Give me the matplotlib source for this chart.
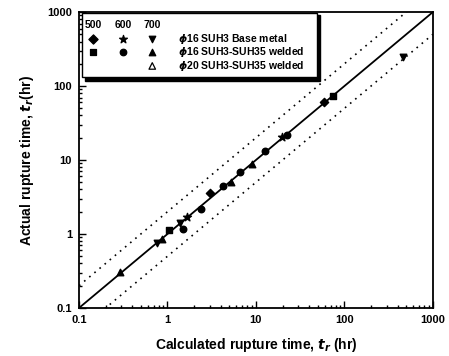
import numpy as np
import matplotlib.pyplot as plt
from matplotlib.patches import Rectangle
from matplotlib.ticker import FixedLocator, LogLocator, NullFormatter

plt.rcParams["font.family"] = ["Liberation Sans", "DejaVu Sans"]
plt.rcParams["font.weight"] = "bold"

# calculated (x) vs actual (y) rupture times, hr
base500_x = [3.02, 58.6]
base500_y = [3.58, 60.8]
base600_x = [1.66, 19.7]
base600_y = [1.70, 20.5]
base700_x = [0.76, 1.38, 460]
base700_y = [0.755, 1.41, 245]
weld500_x = [1.04, 74]
weld500_y = [1.13, 73]
weld600_x = [1.5, 2.39, 4.24, 6.6, 12.6, 22.4]
weld600_y = [1.17, 2.18, 4.45, 6.9, 13.2, 21.8]
weld700_x = [0.29, 0.87, 5.2, 9.0]
weld700_y = [0.307, 0.855, 5.05, 8.8]

temps = ["500", "600", "700"]
groups = [r"$\phi$16 SUH3 Base metal",
          r"$\phi$16 SUH3-SUH35 welded",
          r"$\phi$20 SUH3-SUH35 welded"]

fig = plt.figure(figsize=(4.49, 3.56), dpi=100)
ax = fig.add_axes([0.176, 0.135, 0.788, 0.831])

ax.set_xscale("log")
ax.set_yscale("log")
ax.set_xlim(0.1, 1000)
ax.set_ylim(0.1, 1000)

# 1:1 line and factor-of-two scatter band
line = np.array([0.1, 1000])
ax.plot(line, line, color="black", lw=1.3)
ax.plot(line, 2 * line, color="black", lw=1.2, ls=(0, (1, 3)))
ax.plot(line, line / 2, color="black", lw=1.2, ls=(0, (1, 3)))

ms = 22
ax.scatter(base500_x, base500_y, marker="D", s=ms * 0.8, color="black", zorder=3)
ax.scatter(base600_x, base600_y, marker="*", s=ms * 1.6, color="black", zorder=3)
ax.scatter(base700_x, base700_y, marker="v", s=ms, color="black", zorder=3)
ax.scatter(weld500_x, weld500_y, marker="s", s=ms * 0.7, color="black", zorder=3)
ax.scatter(weld600_x, weld600_y, marker="o", s=ms, color="black", zorder=3)
ax.scatter(weld700_x, weld700_y, marker="^", s=ms, color="black", zorder=3)

# legend table with drop shadow
shadow = Rectangle((0.018, 0.768), 0.664, 0.222, transform=ax.transAxes,
                   facecolor="black", edgecolor="black", zorder=4)
box = Rectangle((0.008, 0.782), 0.664, 0.215, transform=ax.transAxes,
                facecolor="white", edgecolor="black", lw=1.0, zorder=5)
ax.add_patch(shadow)
ax.add_patch(box)

col_x = [0.04, 0.125, 0.207]
row_y = [0.91, 0.866, 0.818]
for cx, t in zip(col_x, temps):
    ax.text(cx, 0.955, t, transform=ax.transAxes, fontsize=7.5,
            ha="center", va="center", zorder=6)
legend_markers = [[("D", "black"), ("*", "black"), ("v", "black")],
                  [("s", "black"), ("o", "black"), ("^", "black")],
                  [None, None, ("^", "none")]]
for ry, row, label in zip(row_y, legend_markers, groups):
    for cx, m in zip(col_x, row):
        if m is None:
            continue
        ax.scatter([cx], [ry], marker=m[0], s=ms * (1.6 if m[0] == "*" else 1.0),
                   facecolor=m[1], edgecolor="black", lw=0.9,
                   transform=ax.transAxes, zorder=6)
    ax.text(0.28, ry, label, transform=ax.transAxes, fontsize=7.5,
            ha="left", va="center", zorder=6)

ax.xaxis.set_major_locator(FixedLocator([0.1, 1, 10, 100, 1000]))
ax.yaxis.set_major_locator(FixedLocator([0.1, 1, 10, 100, 1000]))
ax.set_xticklabels(["0.1", "1", "10", "100", "1000"])
ax.set_yticklabels(["0.1", "1", "10", "100", "1000"])
for axis in (ax.xaxis, ax.yaxis):
    axis.set_minor_locator(LogLocator(base=10, subs=np.arange(2, 10)))
    axis.set_minor_formatter(NullFormatter())

ax.tick_params(which="both", direction="in", labelsize=8, width=1.0)
ax.tick_params(which="major", length=5, pad=5)
ax.tick_params(which="minor", length=2.5)
for sp in ax.spines.values():
    sp.set_linewidth(1.3)

ax.set_xlabel(r"Calculated rupture time, $\it{t}_r$ (hr)", fontsize=10,
              fontweight="bold", labelpad=8)
ax.set_ylabel(r"Actual rupture time, $\it{t}_r$(hr)", fontsize=10,
              fontweight="bold", labelpad=8)

fig.savefig("out.png", dpi=100)
